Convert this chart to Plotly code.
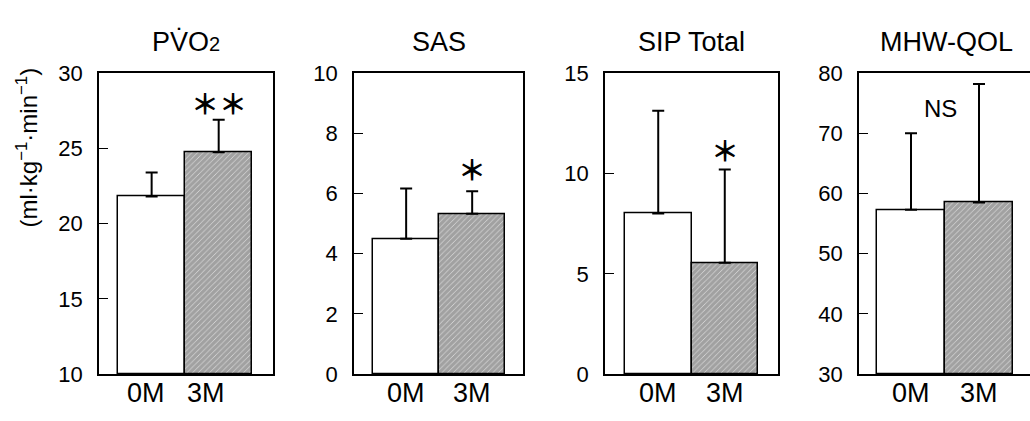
import plotly.graph_objects as go

W, H = 1030, 421

categories = ["0M", "3M"]
titles = ["PV\u0307O<span style='font-size:20px'>2</span>", "SAS", "SIP Total", "MHW-QOL"]
means = [[21.8, 24.75], [4.5, 5.33], [8.0, 5.55], [57.3, 58.5]]
sds = [[1.6, 2.15], [1.67, 0.75], [5.13, 4.65], [12.7, 19.7]]
marks = ["**", "*", "*", "NS"]
y_ranges = [[10, 30], [0, 10], [0, 15], [30, 80]]
y_dticks = [5, 2, 5, 10]
y_label = "(ml·kg<sup>−1</sup>·min<sup>−1</sup>)"

# layout (pixel extents of each panel)
px_dom = [(99, 273), (354, 523), (605, 778), (859, 1030)]
x_ranges = [[-0.785, 1.81], [-0.79, 1.77], [-0.80, 1.80], [-0.765, 1.75]]
y_top, y_bot = 65, 385
mark_pos = [(1, 97), (1, 167), (1, 147), (0.43, 103)]
label_shift = [[-6, -13], [0, 0], [0, 0], [0, 0]]

fig = go.Figure()
font_family = "Liberation Sans, Arial, sans-serif"

for i in range(4):
    xa = "x" if i == 0 else f"x{i+1}"
    ya = "y" if i == 0 else f"y{i+1}"
    base = y_ranges[i][0]
    fig.add_trace(go.Bar(
        x=[0, 1], y=[m - base for m in means[i]], width=1,
        xaxis=xa, yaxis=ya, base=base,
        marker=dict(
            color=["white", "white"],
            line=dict(color="black", width=1.5),
            pattern=dict(shape=["", "/"], fgcolor="black", bgcolor="white",
                         size=4, solidity=0.9, fillmode="overlay"),
        ),
        error_y=dict(type="data", symmetric=False,
                     array=sds[i], arrayminus=[0, 0],
                     color="black", thickness=2, width=6),
        showlegend=False,
    ))

    l, r = px_dom[i]
    dom_x = [l / W, r / W]
    dom_y = [1 - y_bot / H, 1 - y_top / H]
    fig.layout[f"xaxis{'' if i == 0 else i+1}"] = dict(
        domain=dom_x, range=x_ranges[i], anchor=ya,
        showticklabels=False,
        showline=True, linecolor="black", linewidth=1.5, mirror=True,
        ticks="", showgrid=False, zeroline=False, fixedrange=True,
    )
    fig.layout[f"yaxis{'' if i == 0 else i+1}"] = dict(
        domain=dom_y, range=y_ranges[i], anchor=xa,
        dtick=y_dticks[i], tick0=y_ranges[i][0],
        showline=True, linecolor="black", linewidth=1.5,
        mirror=(i < 3),
        ticks="inside", ticklen=9, tickwidth=1.2, tickcolor="black",
        showgrid=False, zeroline=False,
        tickfont=dict(size=22, color="black", family=font_family),
        ticklabelstandoff=10, fixedrange=True,
    )
    # category labels under the bars
    for j, cat in enumerate(categories):
        fig.add_annotation(text=cat, xref=xa, yref="paper", x=j, y=1 - 405 / H,
                           xshift=label_shift[i][j],
                           showarrow=False, xanchor="center", yanchor="middle",
                           font=dict(size=27, color="black", family=font_family))
    fig.add_annotation(text=titles[i], xref="paper", yref="paper",
                       x=(l + (r if i < 3 else 1034)) / 2 / W, y=1 - 32 / H,
                       showarrow=False, xanchor="center", yanchor="middle",
                       font=dict(size=27, color="black", family=font_family))
    mx, my = mark_pos[i]
    if marks[i] == "NS":
        fig.add_annotation(text="NS", xref=xa, yref="paper", x=mx, y=1 - my / H,
                           showarrow=False, xanchor="center", yanchor="middle",
                           font=dict(size=24, color="black", family=font_family))
    else:
        fig.add_annotation(text="<b>" + marks[i].replace("*", "\uff0a") + "</b>",
                           xref=xa, yref="paper", x=mx, y=1 - my / H,
                           showarrow=False, xanchor="center", yanchor="middle",
                           font=dict(size=28, color="black",
                                     family="Noto Sans CJK JP, sans-serif"))

fig.add_annotation(text=y_label, xref="paper", yref="paper",
                   x=27 / W, y=1 - 144 / H, textangle=-90,
                   showarrow=False, xanchor="center", yanchor="middle",
                   font=dict(size=24, color="black", family=font_family))

fig.update_layout(width=W, height=H, margin=dict(l=0, r=0, t=0, b=0),
                  plot_bgcolor="white", paper_bgcolor="white", bargap=0)
fig.write_html("out.html", config={"displayModeBar": False},
               post_script="document.body.style.margin='0px';document.body.style.overflow='hidden';")
